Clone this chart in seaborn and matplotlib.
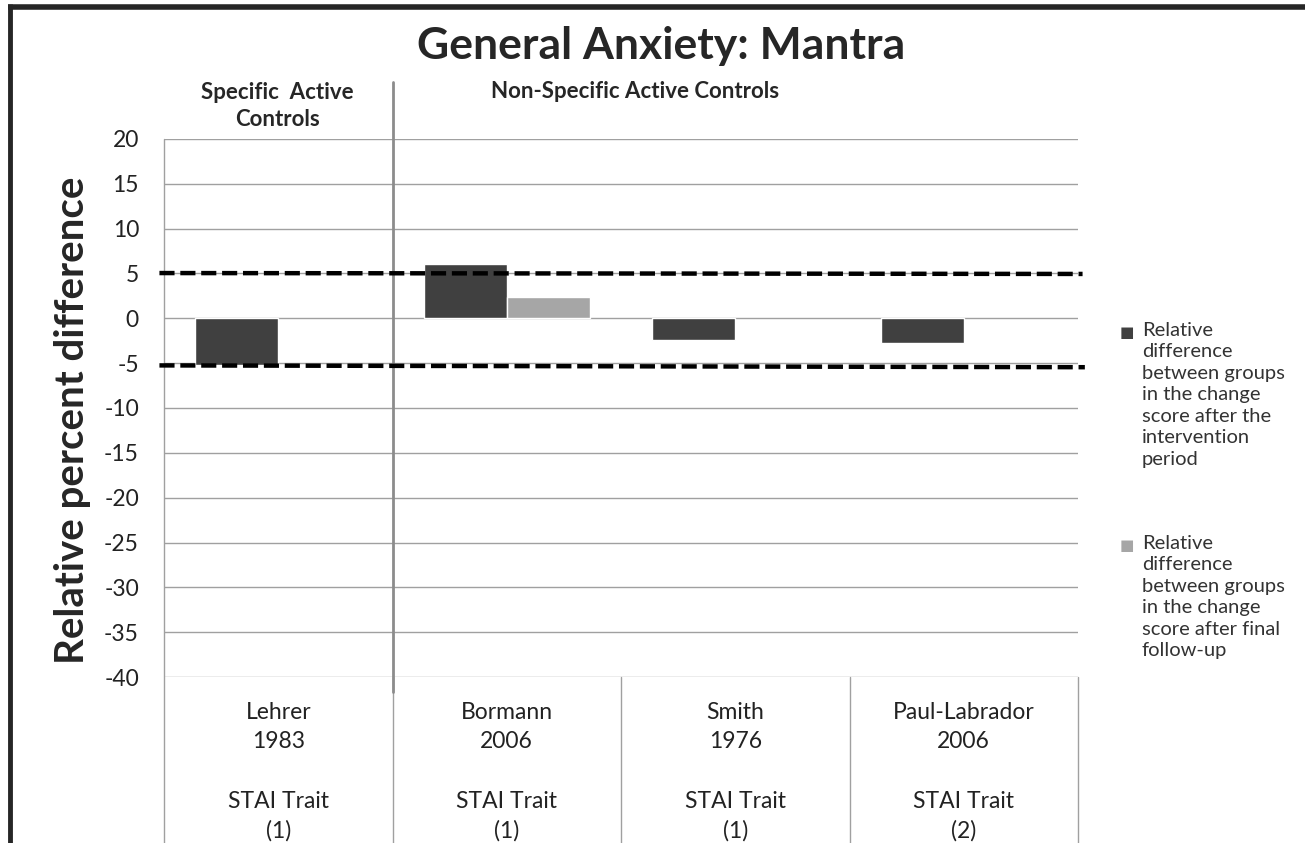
import matplotlib
matplotlib.use('Agg')

import pandas as pd
import matplotlib.pyplot as plt
import seaborn as sns
from matplotlib.lines import Line2D
import numpy as np

# Data
studies = ["Lehrer\n1983\n\nSTAI Trait\n(1)",
           "Bormann\n2006\n\nSTAI Trait\n(1)",
           "Smith\n1976\n\nSTAI Trait\n(1)",
           "Paul-Labrador\n2006\n\nSTAI Trait\n(2)"]
after_intervention = [-5.2, 6.1, -2.45, -2.7]
after_followup = [np.nan, 2.4, np.nan, np.nan]
series_names = ["Relative\ndifference\nbetween groups\nin the change\nscore after the\nintervention\nperiod",
                "Relative\ndifference\nbetween groups\nin the change\nscore after final\nfollow-up"]
series_colors = ["#404040", "#A6A6A6"]
threshold_upper = [5.05, 4.95]   # dashed line, left end / right end
threshold_lower = [-5.25, -5.45]
y_ticks = list(range(-40, 25, 5))

df = pd.DataFrame({
    "Study": studies * 2,
    "Series": [series_names[0]] * 4 + [series_names[1]] * 4,
    "Value": after_intervention + after_followup,
})

sns.set_style("white")
plt.rcParams['font.family'] = ['Lato', 'DejaVu Sans']

fig = plt.figure(figsize=(13.05, 8.43), dpi=100)
ax = fig.add_axes([164 / 1305, 1 - 677 / 843, (1078 - 164) / 1305, (677 - 139) / 843])

# gridlines first so bars sit on top
for yv in y_ticks:
    ax.axhline(yv, color="#A0A0A0", lw=1, zorder=0)

sns.barplot(data=df, x="Study", y="Value", hue="Series", order=studies,
            hue_order=series_names, palette=dict(zip(series_names, series_colors)),
            width=0.727, dodge=True, saturation=1, legend=False, ax=ax, zorder=2)

ax.set_xlim(-0.5, 3.5)
ax.set_ylim(-40, 20)
ax.set_yticks(y_ticks)
ax.set_yticklabels([str(v) for v in y_ticks], fontsize=16.5, color="#222222")
ax.tick_params(axis="y", length=0, pad=18)
ax.tick_params(axis="x", length=0, pad=18)
for lbl in ax.get_xticklabels():
    lbl.set_fontsize(16.5)
    lbl.set_linespacing(1.5)
    lbl.set_color("#222222")
ax.set_xlabel("")
ax.set_ylabel("Relative percent difference", fontsize=29, fontweight="bold")
ax.yaxis.label.set_va("center")
ax.yaxis.set_label_coords((73 - 164) / 914, (677 - 420) / 538)

for side in ["top", "right", "bottom", "left"]:
    ax.spines[side].set_visible(False)

# left axis line, running down past the category labels
ax.axvline(-0.5, ymin=-0.31, ymax=1, color="#A0A0A0", lw=1, clip_on=False)
# category separators below the plot area
for xb in [0.5, 1.5, 2.5, 3.5]:
    ax.axvline(xb, ymin=-0.31, ymax=0, color="#A0A0A0", lw=1, clip_on=False)
# divider between control types
ax.axvline(0.5, ymin=-0.028, ymax=1.106, color="#8C8C8C", lw=2, clip_on=False)

# +/- 5% threshold lines
ax.plot([-0.52, 3.52], threshold_upper, color="black", lw=3.2, ls=(0, (3.4, 1.3)),
        clip_on=False, zorder=3)
ax.plot([-0.52, 3.53], threshold_lower, color="black", lw=3.2, ls=(0, (3.4, 1.3)),
        clip_on=False, zorder=3)

# headers
fig.text(277 / 1305, 1 - 106 / 843, "Specific  Active\nControls", ha="center", va="center",
         fontsize=16, fontweight="bold", linespacing=1.3)
fig.text(635 / 1305, 1 - 92 / 843, "Non-Specific Active Controls", ha="center", va="center",
         fontsize=16, fontweight="bold")

fig.text(661 / 1305, 1 - 46 / 843, "General Anxiety: Mantra", ha="center",
         va="center", fontsize=32, fontweight="bold")

# legend, drawn as text so the square sits on the first line
legend_tops = [322, 535]
for name, col, top in zip(series_names, series_colors, legend_tops):
    fig.text(1142 / 1305, 1 - top / 843, name, ha="left", va="top", fontsize=14.5,
             linespacing=1.32, color="#333333")
    fig.text(1127 / 1305, 1 - (top + 10) / 843, "\u25A0", ha="center", va="center",
             fontsize=11, color=col, family="DejaVu Sans")

# outer frame (top and left edges)
fig.add_artist(Line2D([8 / 1305, 1], [1 - 6.5 / 843] * 2, color="#262626", lw=4,
                      solid_capstyle="butt", transform=fig.transFigure))
fig.add_artist(Line2D([10 / 1305] * 2, [0, 1 - 4 / 843], color="#262626", lw=3.5,
                      solid_capstyle="butt", transform=fig.transFigure))

fig.savefig("out.png", dpi=100)
